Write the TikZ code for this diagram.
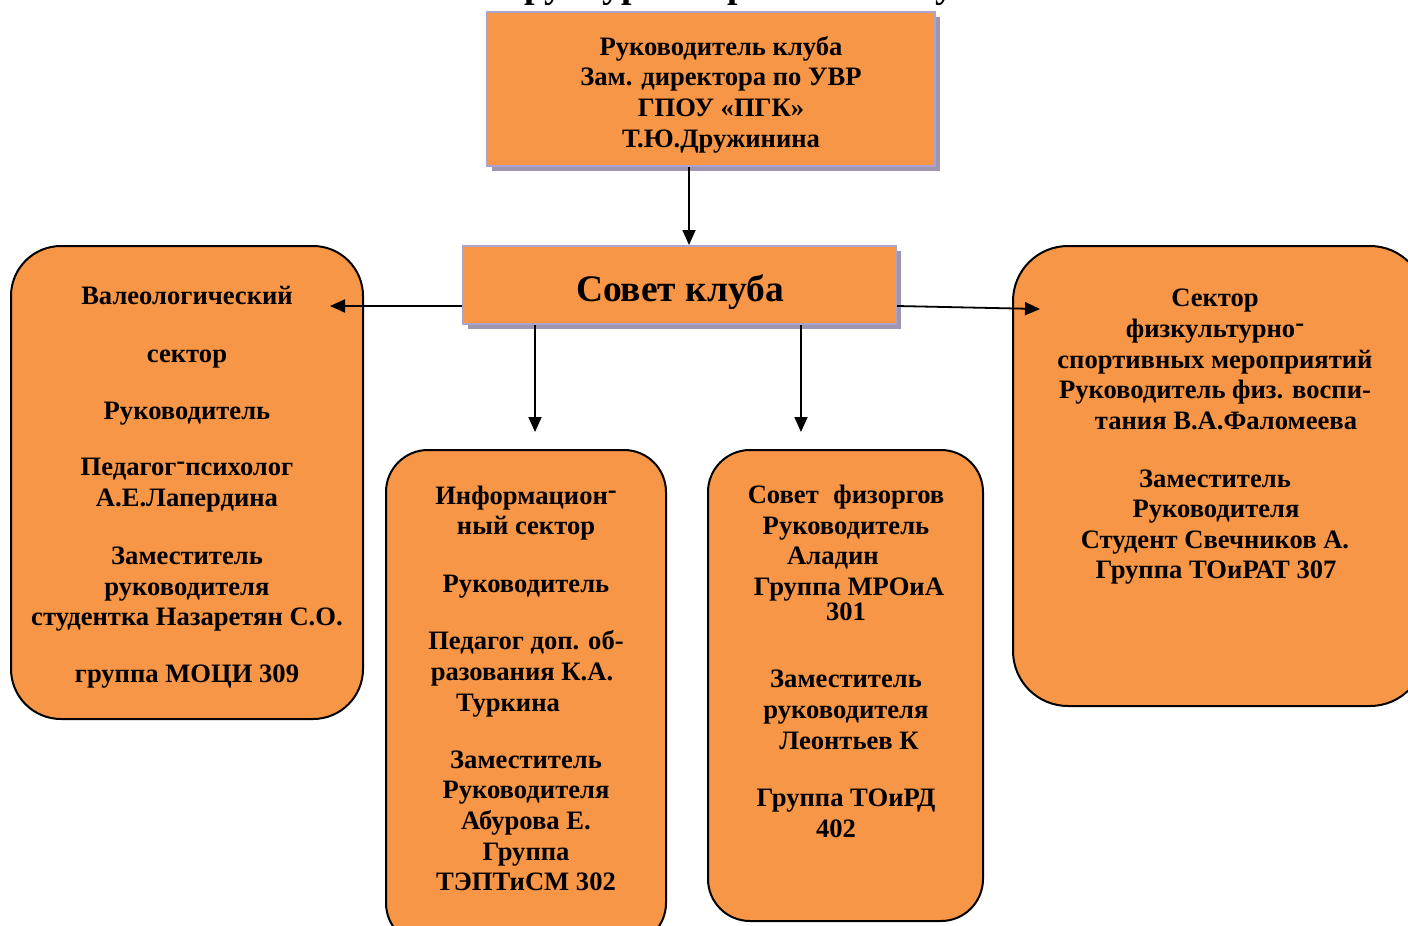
\documentclass[tikz,border=0pt]{standalone}
\usepackage{fontspec}
\setmainfont{Liberation Serif}
\usetikzlibrary{arrows.meta,shadows}
\definecolor{boxorange}{RGB}{247,150,70}
\definecolor{lav}{RGB}{172,162,206}
\definecolor{shade}{RGB}{158,150,176}
\newcommand\hyup{\raisebox{0.22em}{-}}
\begin{document}
\begin{tikzpicture}[x=1pt,y=-1pt,
  sector/.style={draw=black, line width=2pt, fill=boxorange, rounded corners=#1, inner sep=0pt},
  headbox/.style={draw=lav, line width=2pt, fill=boxorange, inner sep=0pt,
    drop shadow={shadow xshift=5pt, shadow yshift=-5pt, fill=shade, opacity=1}},
  txt/.style={font=\fontsize{26.6}{31}\selectfont\bfseries, anchor=base, inner sep=0pt},
  big/.style={font=\fontsize{37.5}{40}\selectfont\bfseries, anchor=base, inner sep=0pt},
  arr/.style={line width=1.8pt, -{Triangle[length=15pt,width=13pt]}}]
\useasboundingbox (0,0) rectangle (1408,926);
\clip (0,0) rectangle (1408,926);
\fill[white] (0,0) rectangle (1408,926);

% title (cut off at the top)
\node[big] (title) at (735,-2) {Структура спортивного клуба};

% boxes
\node[headbox, minimum width=448pt, minimum height=154pt] (head) at (711,89) {};
\node[headbox, minimum width=433pt, minimum height=78pt] (council) at (679.5,285) {};
\node[sector=50pt, minimum width=352pt, minimum height=473pt] (left) at (187,482.5) {};
\node[sector=42pt, minimum width=280pt, minimum height=495pt] (info) at (526,697.5) {};
\node[sector=42pt, minimum width=275pt, minimum height=471pt] (fiz) at (845.5,685.5) {};
\node[sector=55pt, minimum width=412pt, minimum height=460pt] (right) at (1219,476) {};

% texts
\foreach \t/\y [count=\i] in {Руководитель клуба/55, Зам. директора по УВР/85, ГПОУ «ПГК»/116, Т.Ю.Дружинина/147}
  \node[txt] (h\i) at (721,\y) {\t};
\node[big] (ctext) at (680,301) {Совет клуба};

\foreach \t/\y [count=\i] in {Валеологический/304, сектор/362, Руководитель/419, Педагог\hyup{}психолог/475, А.Е.Лапердина/506, Заместитель/564, руководителя/595, студентка Назаретян С.О./625, группа МОЦИ 309/682}
  \node[txt] (v\i) at (187,\y) {\t};

\foreach \t/\x/\y [count=\i] in {Информацион\hyup/526/504, ный сектор/526/534, Руководитель/526/592, Педагог доп. об-/526/649, разования К.А./522/680, Туркина/508/711, Заместитель/526/768, Руководителя/526/798, Абурова Е./526/829, Группа/526/860, ТЭПТиСМ 302/526/890}
  \node[txt] (n\i) at (\x,\y) {\t};

\foreach \t/\x/\y [count=\i] in {Совет\hspace{0.55em}физоргов/846/503, Руководитель/846/534, Аладин/833/564, Группа МРОиА/849/595, 301/846/620, Заместитель/846/687, руководителя/846/718, Леонтьев К/849/749, Группа ТОиРД/846/806, 402/836/837}
  \node[txt] (f\i) at (\x,\y) {\t};

\foreach \t/\x/\y [count=\i] in {Сектор/1215/306, физкультурно\hyup/1215/337, спортивных мероприятий/1215/368, Руководитель физ. воспи-/1215/398, тания В.А.Фаломеева/1226/429, Заместитель/1215/487, Руководителя/1216/517, Студент Свечников А./1215/548, Группа ТОиРАТ 307/1216/578}
  \node[txt] (s\i) at (\x,\y) {\t};

% connectors
\coordinate (lt) at (330,306);
\coordinate (rt) at (1040,309);
\coordinate (it) at (535,432);
\coordinate (ft) at (801,432);
\draw[arr] ([xshift=-22pt]head.south) -- ([xshift=-22pt]head.south |- council.north);
\draw[arr] (council.west |- lt) -- (lt);
\draw[arr] (council.east |- lt) -- (rt);
\draw[arr] (council.south -| it) -- (it);
\draw[arr] (council.south -| ft) -- (ft);
\end{tikzpicture}
\end{document}
